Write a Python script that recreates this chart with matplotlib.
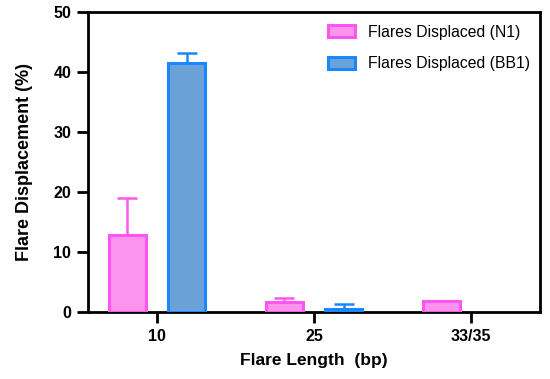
import matplotlib
matplotlib.use("Agg")
import matplotlib.pyplot as plt
import numpy as np

plt.rcParams['font.family'] = ['Liberation Sans', 'DejaVu Sans']

categories = ["10", "25", "33/35"]
n1_values = [12.9, 1.6, 1.8]
n1_err = [6.1, 0.7, 0.0]
bb1_values = [41.5, 0.5, 0.0]
bb1_err = [1.7, 0.8, 0.0]
series_labels = ["Flares Displaced (N1)", "Flares Displaced (BB1)"]

pink_fill = "#FA94EC"
pink_edge = "#FF55F0"
blue_fill = "#6AA2D8"
blue_edge = "#1A86FF"

fig = plt.figure(figsize=(5.5, 3.79), dpi=100)
ax = fig.add_axes([88/550, 1-312/379, (540-88)/550, 300/379])

x = np.arange(len(categories))
off = 0.19
w = 0.235

b1 = ax.bar(x - off, n1_values, w, color=pink_fill, edgecolor=pink_edge, linewidth=2.2,
            label=series_labels[0], zorder=3)
b2 = ax.bar(x + off, bb1_values, w, color=blue_fill, edgecolor=blue_edge, linewidth=2.2,
            label=series_labels[1], zorder=3)
for bars, vals in [(b1, n1_values), (b2, bb1_values)]:
    for p, v in zip(bars.patches, vals):
        if v == 0:
            p.set_visible(False)

for xs, vals, errs, col in [(x - off, n1_values, n1_err, pink_edge),
                            (x + off, bb1_values, bb1_err, blue_edge)]:
    for xi, v, e in zip(xs, vals, errs):
        if e > 0:
            ax.errorbar(xi, v, yerr=[[0], [e]], fmt='none', ecolor=col,
                        elinewidth=1.8, capsize=7.5, capthick=1.8, zorder=2)

ax.set_xlim(-0.44, 2.44)
ax.set_ylim(0, 50)
ax.set_yticks([0, 10, 20, 30, 40, 50])
ax.set_xticks(x)
ax.set_xticklabels(categories)

for s in ax.spines.values():
    s.set_linewidth(2.0)
    s.set_color('black')

ax.tick_params(axis='both', direction='out', length=8, width=2.0, labelsize=11.5, pad=4)
for lbl in ax.get_xticklabels() + ax.get_yticklabels():
    lbl.set_fontweight('bold')

ax.set_xlabel("Flare Length  (bp)", fontsize=12.5, fontweight='bold', labelpad=7)
ax.set_ylabel("Flare Displacement (%)", fontsize=13, fontweight='bold', labelpad=15)

leg = ax.legend(loc='upper left', bbox_to_anchor=(315/550, 1-12/379),
                bbox_transform=fig.transFigure, frameon=False, fontsize=11.3,
                handlelength=1.75, handleheight=0.8, handletextpad=0.8,
                labelspacing=1.05, borderpad=0.3)

fig.savefig("out.png", dpi=100)
